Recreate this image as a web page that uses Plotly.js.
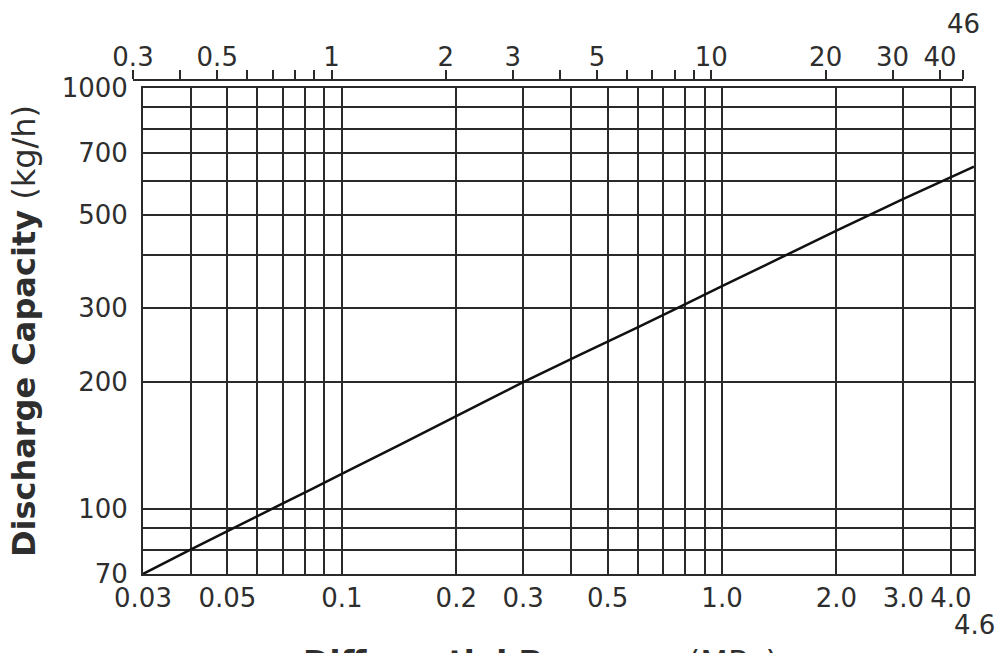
<!DOCTYPE html>
<html>
<head>
<meta charset="utf-8">
<script src="https://cdn.plot.ly/plotly-3.0.1.min.js"></script>
<style>
  html, body { margin: 0; padding: 0; background: #ffffff; }
  #chart { width: 1000px; height: 653px; }
</style>
</head>
<body>
<div id="chart"></div>
<script>
// ---- data ----
const pressureMPa = [0.03, 0.04, 0.07, 0.1, 0.2, 0.3, 0.6, 1.0, 2.0, 3.0, 4.6];
const capacityKgH = [70, 80, 103, 121, 166, 200, 270, 338, 458, 545, 650];

// bottom axis (MPa) grid/ticks
const bottomTickVals = [0.03, 0.04, 0.05, 0.06, 0.07, 0.08, 0.09, 0.1, 0.2, 0.3, 0.4, 0.5, 0.6, 0.7, 0.8, 0.9, 1.0, 2.0, 3.0, 4.0, 4.6];
const bottomTickText = ['0.03', '', '0.05', '', '', '', '', '0.1', '0.2', '0.3', '', '0.5', '', '', '', '', '1.0', '2.0', '3.0', '4.0', ''];
const bottomExtraLabel = '4.6';
const bottomExtraValue = 4.6;

// top axis (kgf/cm2) ticks
const topTickVals = [0.3, 0.4, 0.5, 0.6, 0.7, 0.8, 0.9, 1, 2, 3, 4, 5, 6, 7, 8, 9, 10, 20, 30, 40, 46];
const topTickText = ['0.3', '', '0.5', '', '', '', '', '1', '2', '3', '', '5', '', '', '', '', '10', '20', '30', '40', ''];
const topExtraLabel = '46';
const topExtraValue = 46;

// left axis (kg/h)
const yTickVals = [70, 80, 90, 100, 200, 300, 400, 500, 600, 700, 800, 900, 1000];
const yTickText = ['70', '', '', '100', '200', '300', '', '500', '', '700', '', '', '1000'];

const yTitle = '<b>Discharge Capacity</b> (kg/h)';
const xTitle = '<b>Differential Pressure</b> (MPa)';

// ---- styling ----
const ink = '#2a2a2a';
const txt = '#2e2e2e';
const fam = 'DejaVu Sans, Arial, sans-serif';
const L = 133, R = 26, T = 81, B = 79;
const W = 1000, H = 653;
const paperW = W - L - R, paperH = H - T - B;

const traces = [
  {
    x: pressureMPa, y: capacityKgH, xaxis: 'x', yaxis: 'y',
    type: 'scatter', mode: 'lines',
    line: { color: '#111111', width: 2.5, shape: 'spline', smoothing: 0.6 },
    hoverinfo: 'x+y', showlegend: false
  },
  {
    x: [topTickVals[0], topTickVals[topTickVals.length - 1]], y: [0, 1],
    xaxis: 'x2', yaxis: 'y2', type: 'scatter', mode: 'markers',
    marker: { opacity: 0, size: 1 }, hoverinfo: 'skip', showlegend: false
  }
];

const layout = {
  width: W, height: H,
  margin: { l: L, r: R, t: T, b: B, pad: 0 },
  paper_bgcolor: '#ffffff', plot_bgcolor: 'rgba(0,0,0,0)',
  font: { family: fam, color: txt, size: 26 },
  showlegend: false,
  xaxis: {
    type: 'log', anchor: 'y',
    domain: [10 / paperW, 1],
    range: [Math.log10(bottomTickVals[0]), Math.log10(bottomTickVals[bottomTickVals.length - 1])],
    tickmode: 'array', tickvals: bottomTickVals, ticktext: bottomTickText,
    ticks: '', showgrid: true, gridcolor: ink, gridwidth: 2,
    showline: true, mirror: true, linecolor: ink, linewidth: 2,
    zeroline: false, tickfont: { size: 26, color: txt, family: fam },
    ticklabelstandoff: 0
  },
  yaxis: {
    type: 'log', anchor: 'x',
    domain: [0, (paperH - 7) / paperH],
    range: [Math.log10(yTickVals[0]), Math.log10(yTickVals[yTickVals.length - 1])],
    tickmode: 'array', tickvals: yTickVals, ticktext: yTickText,
    ticks: '', showgrid: true, gridcolor: ink, gridwidth: 2,
    showline: true, mirror: true, linecolor: ink, linewidth: 2,
    zeroline: false, tickfont: { size: 26, color: txt, family: fam },
    ticklabelstandoff: 8,
    title: { text: yTitle, font: { size: 32, color: txt, family: fam }, standoff: 16 }
  },
  xaxis2: {
    type: 'log', anchor: 'y2', side: 'top',
    domain: [0, 830 / paperW],
    range: [Math.log10(topTickVals[0]), Math.log10(topTickVals[topTickVals.length - 1])],
    tickmode: 'array', tickvals: topTickVals, ticktext: topTickText,
    ticks: 'outside', ticklen: 9, tickwidth: 2, tickcolor: ink,
    showgrid: false, showline: true, linecolor: ink, linewidth: 2,
    zeroline: false, tickfont: { size: 26, color: txt, family: fam },
    ticklabelstandoff: -6
  },
  yaxis2: {
    anchor: 'x2', domain: [0, 1], range: [0, 1], visible: false,
    showgrid: false, zeroline: false
  },
  annotations: [
    {
      xref: 'x', yref: 'paper', x: Math.log10(bottomExtraValue), y: 0,
      text: bottomExtraLabel, showarrow: false, xanchor: 'center', yanchor: 'middle',
      yshift: -51, font: { size: 26, color: txt, family: fam }
    },
    {
      xref: 'x2', yref: 'paper', x: Math.log10(topExtraValue), y: 1,
      text: topExtraLabel, showarrow: false, xanchor: 'center', yanchor: 'middle',
      yshift: 57, font: { size: 26, color: txt, family: fam }
    },
    {
      xref: 'paper', yref: 'paper', x: (540 - L) / paperW, y: 0,
      text: xTitle, showarrow: false, xanchor: 'center', yanchor: 'middle',
      yshift: -88, font: { size: 32, color: txt, family: fam }
    }
  ]
};

Plotly.newPlot('chart', traces, layout, { staticPlot: true, displayModeBar: false });
</script>
</body>
</html>
